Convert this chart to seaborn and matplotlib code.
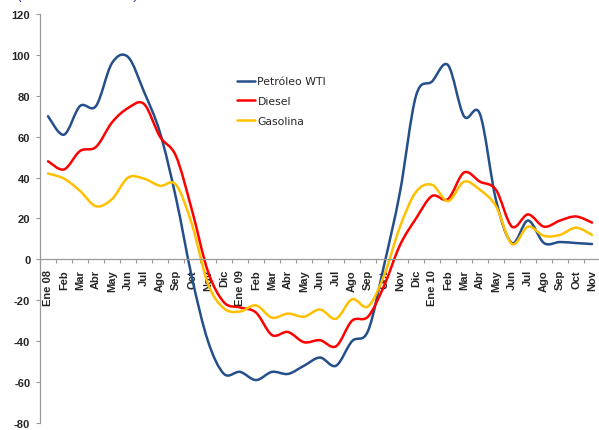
import numpy as np
import pandas as pd
import matplotlib
matplotlib.use("Agg")
import matplotlib.pyplot as plt
from matplotlib.path import Path
from matplotlib.patches import PathPatch
from matplotlib.ticker import FixedLocator
import seaborn as sns

# datos (variacion % anual)
meses = ["Ene 08", "Feb", "Mar", "Abr", "May", "Jun", "Jul", "Ago", "Sep", "Oct", "Nov", "Dic",
         "Ene 09", "Feb", "Mar", "Abr", "May", "Jun", "Jul", "Ago", "Sep", "Oct", "Nov", "Dic",
         "Ene 10", "Feb", "Mar", "Abr", "May", "Jun", "Jul", "Ago", "Sep", "Oct", "Nov"]
petroleo = [70, 61, 75, 75, 96, 99, 82, 62, 30, -9, -40, -56,
            -55, -59, -55, -56, -52, -48, -52, -40, -35, -3, 33, 80,
            87, 95, 70, 71, 29, 8, 19, 8, 8.5, 8, 7.5]
diesel = [48, 44, 53, 55, 67, 74, 76, 60, 50.5, 24, -6, -21,
          -23.5, -26, -37, -35.5, -40.5, -39.5, -42.5, -30, -28, -13, 7, 20,
          31, 29.5, 42.5, 38, 34, 16, 22, 16, 19, 21, 18]
gasolina = [42, 39.5, 33.5, 26, 29.5, 40, 39.5, 36, 36.5, 17, -12, -24,
            -25.5, -22.5, -28.5, -26.5, -28, -24.5, -29, -19.5, -23, -8, 16, 33,
            36.5, 28.5, 38, 34, 26, 7.5, 16, 11.5, 12, 15.5, 12]

series = ["Petróleo WTI", "Diesel", "Gasolina"]
colores = ["#254f8a", "#ff0000", "#ffc000"]

df = pd.DataFrame({"mes": np.arange(len(meses)), "Petróleo WTI": petroleo,
                   "Diesel": diesel, "Gasolina": gasolina})
df = df.melt(id_vars="mes", var_name="serie", value_name="var")


def suavizar(x, y):
    # linea suavizada estilo Excel (Catmull-Rom pasado a Bezier)
    pts = np.column_stack([x, y])
    p = np.vstack([pts[0], pts, pts[-1]])
    verts = [pts[0]]
    codes = [Path.MOVETO]
    for i in range(1, len(p) - 2):
        c1 = p[i] + (p[i + 1] - p[i - 1]) / 6
        c2 = p[i + 1] - (p[i + 2] - p[i]) / 6
        verts += [c1, c2, p[i + 1]]
        codes += [Path.CURVE4] * 3
    return Path(verts, codes)


sns.set_theme(style="white")
plt.rcParams["font.family"] = ["Liberation Sans", "DejaVu Sans"]
plt.rcParams["axes.unicode_minus"] = False

fig = plt.figure(figsize=(5.99, 4.31), dpi=100)
ax = fig.add_axes([40 / 599, 1 - 424 / 431, 560 / 599, 409 / 431])
sns.lineplot(data=df, x="mes", y="var", hue="serie", hue_order=series,
             palette=dict(zip(series, colores)), linewidth=1.8, ax=ax)

for line in list(ax.get_lines()):
    x, y = line.get_data()
    if len(x) < 2:
        continue
    ax.add_patch(PathPatch(suavizar(x, y), facecolor="none", edgecolor=line.get_color(),
                           linewidth=1.8, capstyle="round", joinstyle="round"))
    line.remove()

# el eje x cruza en cero (antes de poner etiquetas, set_position las reinicia)
ax.spines["bottom"].set_position(("data", 0))
ax.spines["bottom"].set_color("#999999")
ax.spines["left"].set_color("#999999")
for s in ["bottom", "left"]:
    ax.spines[s].set_linewidth(0.9)
ax.spines["top"].set_visible(False)
ax.spines["right"].set_visible(False)

ax.set_xlim(-0.5, len(meses) - 0.5)
ax.set_ylim(-80, 120)
ax.set_yticks(range(-80, 121, 20))
ax.set_xticks(range(len(meses)))
ax.set_xticklabels(meses, rotation=90, fontweight="bold", fontsize=8)
ax.set_yticklabels([str(v) for v in range(-80, 121, 20)], fontweight="bold", fontsize=8)
ax.xaxis.set_minor_locator(FixedLocator(np.arange(-0.5, len(meses), 1)))
ax.tick_params(axis="x", which="major", length=0, pad=7)
ax.tick_params(axis="x", which="minor", bottom=True, length=3, width=0.8, color="#999999", direction="out")
ax.tick_params(axis="y", left=True, length=3, width=0.8, color="#999999", direction="out", pad=4)
ax.set_xlabel("")
ax.set_ylabel("")

sns.move_legend(ax, "upper left", bbox_to_anchor=(0.338, 0.866), frameon=False, title=None,
                prop={"family": "DejaVu Sans", "size": 7.8}, handlelength=1.7,
                handletextpad=0.2, labelspacing=0.9, borderaxespad=0.3)

# titulo recortado en la parte superior
fig.text(0.03, 1 + 1.5 / 431, "(Variación % anual)", color="#3030b0", fontsize=10,
         fontstyle="italic", va="baseline")

fig.savefig("out.png", dpi=100)
